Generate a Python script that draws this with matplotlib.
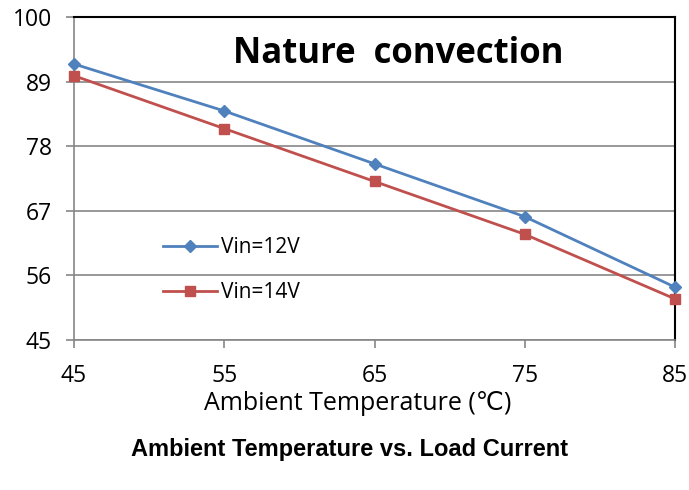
import matplotlib
matplotlib.use("Agg")
import matplotlib.pyplot as plt

temps = [45, 55, 65, 75, 85]
vin12 = [92, 84, 75, 66, 54]
vin14 = [90, 81, 72, 63, 52]
yticks = [45, 56, 67, 78, 89, 100]
xticks = [45, 55, 65, 75, 85]

fam = ['Open Sans', 'DejaVu Sans']

fig = plt.figure(figsize=(6.89, 4.9), dpi=100)
ax = fig.add_axes([74/689, 1-340/490, (675-74)/689, (340-17)/490])

ax.plot(temps, vin12, color='#4F81BD', marker='D', markersize=6, linewidth=2, label='Vin=12V',
        clip_on=False, zorder=3)
ax.plot(temps, vin14, color='#C0504D', marker='s', markersize=7, linewidth=2, label='Vin=14V',
        clip_on=False, zorder=3)

ax.set_xlim(45, 85)
ax.set_ylim(45, 100)
ax.set_xticks(xticks)
ax.set_yticks(yticks)
ax.set_xticklabels([str(v) for v in xticks], family=fam, fontsize=16.5)
ax.set_yticklabels([str(v) for v in yticks], family=fam, fontsize=16.5)
ax.grid(axis='y', color='#868686', linewidth=1.2)
ax.set_axisbelow(True)
ax.tick_params(axis='both', direction='out', length=6, color='#868686', width=1.2)
ax.tick_params(axis='y', pad=10)
ax.tick_params(axis='x', pad=11)

for s in ['left', 'bottom']:
    ax.spines[s].set_color('#868686')
    ax.spines[s].set_linewidth(1.2)
for s in ['top', 'right']:
    ax.spines[s].set_color('black')
    ax.spines[s].set_linewidth(1.5)

ax.set_xlabel('Ambient Temperature (\u2103)', family=fam, fontsize=18)
ax.xaxis.set_label_coords((357.5-74)/601, -(391-340)/323)

ax.text((398-74)/601, 1-(54-17)/323, 'Nature  convection', transform=ax.transAxes, ha='center', va='center',
        family=fam, fontsize=25, fontweight='bold')

leg = ax.legend(loc='upper left', bbox_to_anchor=(0.13, 0.35), frameon=False,
                prop={'family': fam, 'size': 15}, handlelength=2.6, handletextpad=0.2,
                labelspacing=1.15, borderpad=0)

fig.text(350/689, 1-449/490, 'Ambient Temperature vs. Load Current', ha='center', va='center',
         family='Liberation Sans', fontsize=17, fontweight='bold')

fig.savefig('out.png', dpi=100)
